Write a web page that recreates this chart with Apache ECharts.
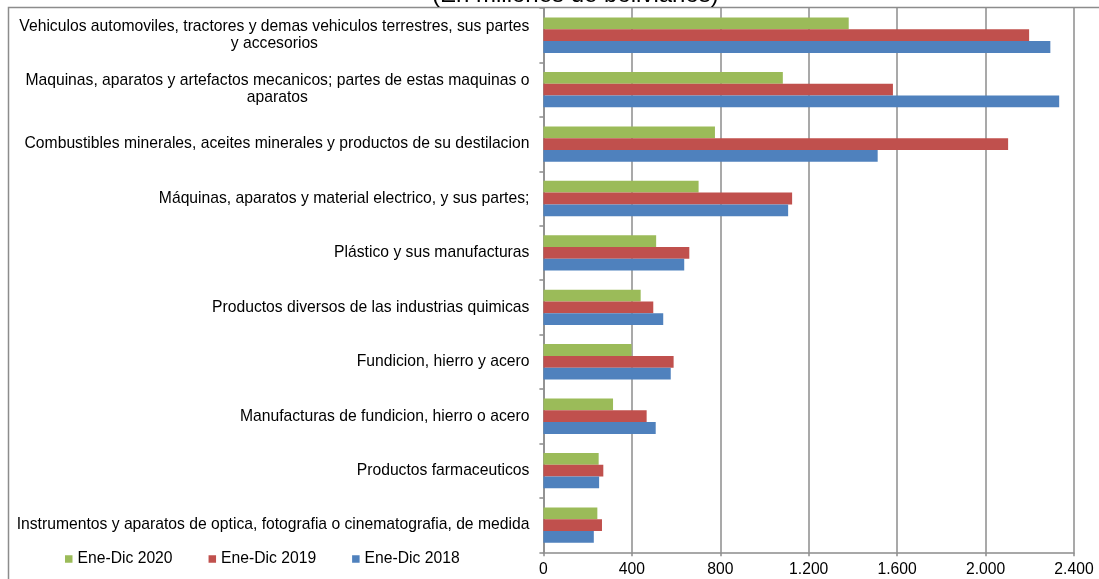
<!DOCTYPE html>
<html>
<head>
<meta charset="utf-8">
<script src="https://cdn.jsdelivr.net/npm/echarts@6/dist/echarts.min.js"></script>
<style>
html,body{margin:0;padding:0;background:#fff;}
#main{width:1099px;height:579px;}
</style>
</head>
<body>
<div id="main"></div>
<script>
var categorias = [
    'Vehiculos automoviles, tractores y demas vehiculos terrestres, sus partes\ny accesorios',
    'Maquinas, aparatos y artefactos mecanicos; partes de estas maquinas o\naparatos',
    'Combustibles minerales, aceites minerales y productos de su destilacion',
    'Máquinas, aparatos y material electrico, y sus partes;',
    'Plástico y sus manufacturas',
    'Productos diversos de las industrias quimicas',
    'Fundicion, hierro y acero',
    'Manufacturas de fundicion, hierro o acero',
    'Productos farmaceuticos',
    'Instrumentos y aparatos de optica, fotografia o cinematografia, de medida'
];
var ene2020 = [1381, 1083, 776, 702, 510, 440, 399, 315, 250, 244];
var ene2019 = [2197, 1581, 2102, 1125, 660, 497, 589, 467, 271, 265];
var ene2018 = [2293, 2333, 1512, 1107, 637, 542, 576, 508, 252, 228];
var ticksX = [0, 400, 800, 1200, 1600, 2000, 2400];

var fuente = "'Liberation Sans', Arial, sans-serif";
var gris = '#8c8c8c';

function miles(v) {   // 2000 -> 2.000
    return String(v).replace(/\B(?=(\d{3})+(?!\d))/g, '.');
}

var myChart = echarts.init(document.getElementById('main'));
myChart.setOption({
    animation: false,
    backgroundColor: '#fff',
    title: {
        text: '(En millones de bolivianos)',
        left: 432,
        top: -17,
        padding: 0,
        textStyle: {fontFamily: fuente, fontSize: 24, fontWeight: 'normal', color: '#000'}
    },
    graphic: [{
        type: 'rect',
        silent: true,
        shape: {x: 8.5, y: 7.5, width: 1200, height: 700},
        style: {fill: 'none', stroke: gris, lineWidth: 1.5}
    }],
    legend: {
        left: 65,
        top: 551,
        padding: 0,
        icon: 'rect',
        itemWidth: 7.5,
        itemHeight: 7.5,
        itemGap: 36,
        textStyle: {fontFamily: fuente, fontSize: 15.7, color: '#000'},
        data: ['Ene-Dic 2020', 'Ene-Dic 2019', 'Ene-Dic 2018']
    },
    grid: {left: 543.4, right: 25, top: 8, bottom: 26.7, containLabel: false},
    xAxis: {
        type: 'value',
        min: ticksX[0],
        max: ticksX[ticksX.length - 1],
        interval: ticksX[1] - ticksX[0],
        axisLine: {show: true, lineStyle: {color: gris, width: 1.5}},
        axisTick: {show: true, length: 4, lineStyle: {color: gris, width: 1.5}},
        axisLabel: {
            margin: 9,
            fontFamily: fuente, fontSize: 15.7, color: '#000',
            formatter: function (v) { return miles(v); }
        },
        splitLine: {show: true, lineStyle: {color: gris, width: 1.5}}
    },
    yAxis: {
        type: 'category',
        inverse: true,
        data: categorias,
        axisLine: {show: true, lineStyle: {color: gris, width: 1.5}},
        axisTick: {show: true, length: 4, lineStyle: {color: gris, width: 1.5}},
        axisLabel: {
            margin: 14,
            fontFamily: fuente, fontSize: 15.7, color: '#000',
            lineHeight: 17,
            formatter: function (v) {
                // cada linea centrada dentro del bloque
                return v.split('\n').map(function (l) { return '{c|' + l + '}'; }).join('\n');
            },
            rich: {c: {align: 'center', fontFamily: fuente, fontSize: 15.7, lineHeight: 17, color: '#000'}}
        },
        splitLine: {show: false}
    },
    series: [
        {name: 'Ene-Dic 2020', type: 'bar', data: ene2020, itemStyle: {color: '#9BBB59'}, barGap: '0%', barCategoryGap: '35%'},
        {name: 'Ene-Dic 2019', type: 'bar', data: ene2019, itemStyle: {color: '#C0504D'}, barGap: '0%', barCategoryGap: '35%'},
        {name: 'Ene-Dic 2018', type: 'bar', data: ene2018, itemStyle: {color: '#4F81BD'}, barGap: '0%', barCategoryGap: '35%'}
    ]
});
</script>
</body>
</html>
